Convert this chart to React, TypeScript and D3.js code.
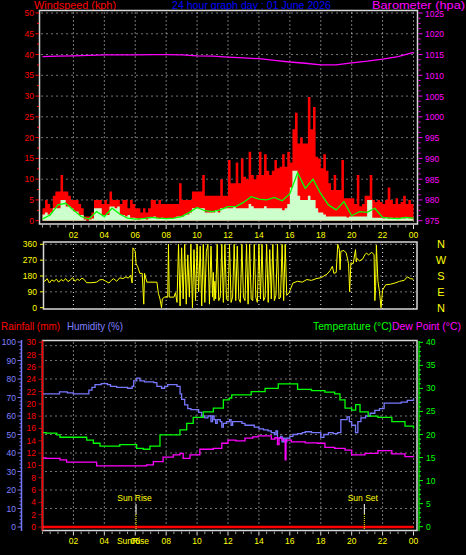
import React from 'react';
import * as d3 from 'd3';

const W = 466;
const H = 555;
const FONT = "'Liberation Sans', Arial, sans-serif";

// ---------- DATA ----------
const hourTicks = [2, 4, 6, 8, 10, 12, 14, 16, 18, 20, 22, 24];
const hourLabels = ['02', '04', '06', '08', '10', '12', '14', '16', '18', '20', '22', '00'];

const windTicks = [0, 5, 10, 15, 20, 25, 30, 35, 40, 45, 50];
const windLabels = ['0', '5', '10', '15', '20', '25', '30', '35', '40', '45', '50'];
const baroTicks = [975, 980, 985, 990, 995, 1000, 1005, 1010, 1015, 1020, 1025];
const dirTicks = [0, 90, 180, 270, 360];
const dirLetters = ['N', 'E', 'S', 'W', 'N'];
const humTicks = [0, 10, 20, 30, 40, 50, 60, 70, 80, 90, 100];
const rainTicks = [0, 2, 4, 6, 8, 10, 12, 14, 16, 18, 20, 22, 24, 26, 28, 30];
const tempTicks = [0, 5, 10, 15, 20, 25, 30, 35, 40];

// wind gust (kph), 10-minute samples
const windGust = [
  3, 5, 4, 3, 6, 7, 7, 11, 7, 7, 6, 5, 5, 5, 4, 3, 1, 1, 1, 2, 5, 5, 5, 4,
  5, 4, 7, 5, 5, 5, 4, 5, 5, 3, 5, 4, 3, 3, 2, 3, 2, 3, 5, 5, 4, 5, 4, 4,
  4, 4, 4, 4, 4, 9, 5, 5, 5, 5, 7, 7, 7, 7, 11, 6, 6, 6, 6, 6, 6, 10, 6, 6,
  14.6, 9, 9, 14, 9, 15, 10.6, 10, 16.6, 11, 10, 11, 16.6, 11, 16, 12, 11, 12,
  14.6, 12.6, 13, 16, 13, 16.6, 14, 22, 26, 18.6, 20, 18.6, 18.6, 29.8, 22, 27.4, 15.4, 15,
  12.6, 16, 12, 9, 7.4, 11, 7.4, 7.4, 14.6, 5.4, 5.4, 5.4, 5.4, 4, 11, 3.5, 4, 6,
  6, 11, 5, 4.5, 5, 4.5, 4, 5, 8, 5, 4, 5.4, 4, 4.5, 6, 4, 5, 4,
];
// average wind speed (kph), 10-minute samples
const windAvg = [
  1.5, 2, 1.5, 2, 3, 3, 3, 5, 5, 3.4, 3.4, 3, 2.2, 2.2, 1.4, 1.4, 0.3, 0,
  0.3, 0.5, 3, 3, 3, 1.4, 1.4, 1.4, 3.4, 3.4, 3, 3.4, 1.4, 1.4, 1, 1.4, 0.7, 0.7,
  0.5, 0.3, 0.6, 0.5, 0.3, 0.6, 0.8, 1, 0.6, 0.5, 0.7, 0.5, 0.5, 0.6, 0.5, 0.7, 1, 1,
  1, 1.5, 1.5, 2, 3, 3, 3, 3, 3, 2, 2, 2, 2, 2.5, 2, 3, 3, 3,
  3, 3, 3.5, 3, 3, 3, 3, 3, 4, 3.5, 3, 3, 3, 3, 3.5, 3, 3, 3,
  3, 3, 3, 2.5, 3, 4, 8, 12, 12, 6, 5, 5, 5, 6, 5, 5, 3, 2,
  2, 1.5, 1, 1, 1, 1, 1, 1, 1, 1, 0.8, 1, 1, 1, 1, 1, 1, 1,
  5, 5, 0.7, 0.7, 0.7, 0.7, 0.5, 0.7, 0.5, 0.7, 0.5, 0.7, 0.5, 0.7, 0.5, 0.7, 0.5, 0.5,
];
// smoothed wind (kph), half-hourly
const windLine = [
  0.4, 1.4, 3.8, 4.2, 2.6, 1.0, 0.4, 2.2, 1.0, 3.0, 1.6, 0.6, 0.4, 0.5, 0.8, 0.6,
  0.5, 0.6, 1.0, 2.0, 3.2, 2.4, 2.2, 2.6, 3.4, 3.4, 4.4, 5.8, 5.2, 5.0, 5.6, 4.8,
  6.5, 11.5, 7.8, 10.0, 6.5, 3.8, 2.6, 4.6, 1.2, 2.2, 2.0, 3.0, 0.8, 0.6, 0.5, 0.8, 0.6,
];
// barometer (hPa), hourly
const baro = [
  1014.5, 1014.6, 1014.7, 1014.8, 1014.9, 1014.9, 1014.9, 1015.0, 1015.0, 1014.9,
  1014.7, 1014.6, 1014.4, 1014.2, 1014.0, 1013.6, 1013.2, 1012.9, 1012.5, 1012.5,
  1013.0, 1013.4, 1013.9, 1014.5, 1015.5,
];
// wind direction [hour, degrees]
const windDir: [number, number][] = [
  [0.0, 160], [0.15, 150], [0.3, 165], [0.45, 140], [0.6, 158], [0.75, 150], [0.9, 162], [1.05, 145],
  [1.2, 160], [1.35, 152], [1.5, 165], [1.65, 148], [1.8, 158], [1.95, 170], [2.1, 150], [2.25, 162],
  [2.4, 155], [2.55, 168], [2.7, 160], [2.85, 142], [3.2, 142], [3.5, 145], [3.7, 158], [3.9, 160],
  [4.1, 150], [4.3, 140], [4.45, 155], [4.6, 165], [4.8, 150], [5.0, 170], [5.2, 165], [5.4, 175],
  [5.55, 168], [5.7, 185], [5.8, 140], [5.85, 340], [6.0, 320], [6.05, 250], [6.15, 235], [6.3, 195],
  [6.45, 195], [6.55, 20], [6.6, 195], [6.75, 145], [7.4, 145], [7.5, 80], [7.6, 50], [7.7, 0],
  [7.75, 50], [7.9, 60], [8.1, 60], [8.15, 360], [8.2, 60], [8.5, 60], [8.6, 85],
  [8.7, 30], [8.8, 360], [8.9, 10], [9.0, 340], [9.1, 50], [9.2, 360], [9.3, 20], [9.4, 300],
  [9.5, 60], [9.6, 360], [9.7, 0], [9.8, 330], [9.9, 40], [10.0, 360], [10.1, 90], [10.2, 350],
  [10.3, 10], [10.4, 360], [10.5, 30], [10.6, 320], [10.7, 360], [10.8, 20], [10.9, 350], [11.0, 60],
  [11.05, 200], [11.1, 40], [11.15, 150], [11.2, 50],
  [11.3, 360], [11.4, 40], [11.5, 60], [11.6, 360], [11.7, 30], [11.8, 360], [11.9, 50], [12.0, 40],
  [12.1, 360], [12.2, 30], [12.3, 60], [12.4, 360], [12.5, 40], [12.6, 350], [12.7, 50], [12.8, 30],
  [12.9, 360], [13.0, 60], [13.1, 40], [13.2, 360], [13.3, 20], [13.4, 360], [13.5, 50], [13.6, 40],
  [13.7, 360], [13.8, 60], [13.9, 30], [14.0, 360], [14.1, 50], [14.2, 360], [14.3, 40], [14.4, 60],
  [14.5, 360], [14.6, 30], [14.7, 330], [14.8, 50], [14.9, 360], [15.0, 40], [15.1, 70], [15.2, 360],
  [15.3, 50], [15.4, 60], [15.5, 360], [15.6, 40], [15.7, 360], [15.8, 70], [15.95, 85],
  [16.2, 140], [16.5, 150], [16.8, 145], [17.1, 160], [17.4, 155], [17.7, 165], [18.0, 170], [18.2, 180],
  [18.4, 190], [18.6, 210], [18.75, 235], [18.85, 195], [19.0, 200], [19.1, 360], [19.2, 330], [19.25, 215],
  [19.3, 320], [19.5, 325], [19.65, 310], [19.8, 250], [19.87, 90], [19.95, 255], [20.1, 250], [20.25, 330],
  [20.3, 260], [20.35, 280], [20.5, 265], [20.7, 275], [20.85, 300], [20.95, 310], [21.1, 300], [21.3, 315],
  [21.45, 300], [21.5, 40], [21.55, 120], [21.6, 355], [21.7, 150], [21.8, 90], [21.9, 0], [22.0, 100],
  [22.2, 130], [22.5, 133], [22.8, 140], [23.1, 150], [23.4, 155], [23.6, 175], [23.8, 165], [24.0, 162],
];
// humidity (%) [hour, value]
const humidity: [number, number][] = [
  [0, 72], [0.5, 72], [1.0, 72], [1.1, 73], [1.5, 73], [1.6, 72.5], [2.0, 72], [2.8, 72], [3.0, 74],
  [3.2, 75.5], [3.4, 77], [3.8, 77.5], [4.2, 77], [4.4, 76], [4.8, 75.5], [5.2, 75.5], [5.5, 75],
  [5.8, 76], [5.9, 79], [6.1, 80.5], [6.3, 79], [6.6, 78.5], [7.0, 78.5], [7.2, 78], [7.4, 76],
  [7.7, 75], [7.9, 76], [8.1, 77], [8.5, 77], [8.7, 76], [8.9, 72], [9.0, 69], [9.2, 66], [9.4, 64],
  [9.6, 63.5], [9.9, 63.5], [10.1, 62], [10.3, 60], [10.5, 59], [10.7, 60], [10.9, 57], [11.0, 60],
  [11.1, 58], [11.2, 56], [11.3, 58], [11.5, 57], [11.6, 54], [11.7, 56], [11.9, 57], [12.1, 58],
  [12.2, 55], [12.3, 57], [12.6, 57], [12.9, 56], [13.1, 55], [13.4, 55], [13.7, 54], [14.0, 53],
  [14.3, 52.5], [14.6, 52], [14.8, 51], [15.0, 50], [15.1, 52], [15.2, 48], [15.4, 49], [15.5, 46],
  [15.6, 48], [15.7, 46], [15.8, 48], [16.0, 49], [16.2, 50], [16.5, 50.5], [16.8, 51], [17.0, 51.5],
  [17.4, 51], [17.8, 51], [18.0, 48.5], [18.2, 50], [18.5, 51], [18.8, 50.5], [19.1, 51], [19.3, 58],
  [19.7, 59.5], [19.85, 57], [20.0, 55], [20.25, 51], [20.4, 57], [20.6, 59], [20.9, 60], [21.2, 61.5],
  [21.5, 63], [21.8, 64], [22.1, 67], [22.6, 67], [23.2, 67.5], [23.6, 68.5], [24, 69.5],
];
// temperature (°C) [hour, value]
const temperature: [number, number][] = [
  [0, 20.4], [0.23, 20.3], [0.92, 19.9], [1.13, 19.4], [2.43, 19.4], [2.86, 18.8], [3.29, 18.1],
  [3.72, 17.5], [4.8, 17.5], [5.0, 17.8], [5.87, 17.8], [6.09, 17.0], [6.52, 16.8], [6.95, 17.5],
  [7.6, 19.9], [8.46, 19.9], [8.89, 21.0], [9.33, 22.4], [9.75, 23.7], [10.4, 24.9], [11.05, 25.7],
  [11.7, 27.5], [12.08, 27.9], [12.24, 28.6], [13.1, 28.6], [13.5, 29.3], [14.4, 30.0], [15.25, 31.0],
  [16.1, 31.0], [16.5, 29.8], [17.4, 29.5], [18.27, 29.2], [18.9, 28.8], [19.24, 27.5], [19.57, 25.7],
  [20.0, 25.3], [20.26, 26.5], [20.54, 24.9], [21.07, 24.0], [21.7, 23.7], [22.6, 22.8], [23.45, 21.8],
  [24, 21.3],
];
// dew point (°C) [hour, value]
const dewPoint: [number, number][] = [
  [0, 14.9], [0.23, 14.8], [1.13, 14.5], [1.56, 14.0], [3.07, 14.0], [3.5, 13.2], [6.09, 13.2],
  [6.74, 13.4], [7.17, 14.1], [7.8, 15.1], [8.46, 15.6], [8.89, 15.9], [9.1, 14.8], [9.54, 15.6],
  [10.18, 16.8], [11.05, 17.0], [11.6, 18.1], [12.0, 18.8], [12.5, 18.6], [13.1, 19.2], [13.6, 19.5],
  [13.95, 19.7], [14.6, 19.7], [14.8, 19.0], [15.04, 19.3], [15.2, 17.8], [15.3, 19.2], [15.5, 18.8],
  [15.65, 18.8], [15.7, 14.5], [15.75, 18.8], [16.1, 18.4], [17.0, 18.2], [17.8, 18.1], [18.27, 17.2],
  [18.9, 17.0], [19.57, 16.6], [20.0, 15.6], [20.86, 15.9], [21.7, 16.5], [22.6, 15.8], [23.45, 15.2],
  [24, 15.3],
];
// rainfall (mm), hourly
const rainfall = [0, 0, 0, 0, 0, 0, 0, 0, 0, 0, 0, 0, 0, 0, 0, 0, 0, 0, 0, 0, 0, 0, 0, 0, 0];

const sunRiseHour = 6.05;
const sunSetHour = 20.82;

const halfHours = d3.range(0, 24.01, 0.5);

export default function App() {
  // scales
  const x = d3.scaleLinear().domain([0, 24]).range([42.5, 413.5]);
  const yWind = d3.scaleLinear().domain([0, 50]).range([220.7, 13]);
  const yBaro = d3.scaleLinear().domain([975, 1025]).range([220.7, 13]);
  const yDir = d3.scaleLinear().domain([0, 360]).range([307.7, 244.3]);
  const yHum = d3.scaleLinear().domain([0, 100]).range([527, 342]);
  const yRain = d3.scaleLinear().domain([0, 30]).range([527, 342.3]);
  const yTemp = d3.scaleLinear().domain([0, 40]).range([526.7, 342.3]);

  const stepArea = (vals: number[], per: number) =>
    d3
      .area<number>()
      .x((_, i) => x(i / per))
      .y0(yWind(0))
      .y1((d) => yWind(d))
      .curve(d3.curveStepAfter)([...vals, vals[vals.length - 1]]) || '';

  const gustPath = stepArea(windGust, 6);
  const avgPath = stepArea(windAvg, 6);
  const windLinePath =
    d3.line<number>().x((_, i) => x(i / 2)).y((d) => yWind(d))(windLine) || '';
  const baroPath = d3.line<number>().x((_, i) => x(i)).y((d) => yBaro(d))(baro) || '';
  const pairLine = (ys: d3.ScaleLinear<number, number>) =>
    d3.line<[number, number]>().x((d) => x(d[0])).y((d) => ys(d[1]));
  const dirPath = pairLine(yDir)(windDir) || '';
  const humPath = pairLine(yHum).curve(d3.curveStepAfter)(humidity) || '';
  const tempPath = pairLine(yTemp).curve(d3.curveStepAfter)(temperature) || '';
  const dewPath = pairLine(yTemp).curve(d3.curveStepAfter)(dewPoint) || '';
  const rainPath = d3.line<number>().x((_, i) => x(i)).y((d) => yRain(d))(rainfall) || '';

  const dotted = '#e8e8e8';
  const boxStroke = '#d8d8d8';

  const topBox = { x0: 39.5, x1: 417.5, y0: 10.5, y1: 224 };
  const midBox = { x0: 43.5, x1: 417, y0: 242, y1: 309 };
  const botBox = { x0: 42.5, x1: 417, y0: 340.5, y1: 530.5 };

  const timeTicks = (yb: number) =>
    halfHours.map((h, i) => {
      const major = h % 2 === 0 && h > 0;
      return (
        <line
          key={'tt' + yb + i}
          x1={x(h)}
          x2={x(h)}
          y1={yb + 1}
          y2={yb + (major ? 5 : 3.5)}
          stroke={major ? '#e0e0e0' : '#a0a0a0'}
          strokeWidth={1}
        />
      );
    });

  const vGrid = (y0: number, y1: number, k: string) =>
    hourTicks.map((h) => (
      <line key={k + h} x1={x(h)} x2={x(h)} y1={y0} y2={y1} stroke={dotted} strokeDasharray="1 3" />
    ));

  const hGrid = (ys: number[], x0: number, x1: number, k: string) =>
    ys.map((yy, i) => (
      <line key={k + i} x1={x0} x2={x1} y1={yy} y2={yy} stroke={dotted} strokeDasharray="1 4" />
    ));

  return (
    <svg
      width={W}
      height={H}
      style={{ position: 'absolute', left: 0, top: 0, display: 'block' }}
      fontFamily={FONT}
    >
      <defs>
        <clipPath id="clipTop">
          <rect x={topBox.x0} y={topBox.y0} width={topBox.x1 - topBox.x0} height={topBox.y1 - topBox.y0} />
        </clipPath>
        <clipPath id="clipMid">
          <rect x={midBox.x0} y={midBox.y0} width={midBox.x1 - midBox.x0} height={midBox.y1 - midBox.y0} />
        </clipPath>
        <clipPath id="clipBot">
          <rect x={botBox.x0} y={botBox.y0} width={botBox.x1 - botBox.x0} height={botBox.y1 - botBox.y0} />
        </clipPath>
      </defs>
      <rect x={0} y={0} width={W} height={H} fill="#000" />

      {/* ---------- titles ---------- */}
      <text x={34} y={8.5} fontSize={11} fill="#ff0000" textLength={82} lengthAdjust="spacingAndGlyphs">
        Windspeed (kph)
      </text>
      <text x={172} y={8.5} fontSize={11} fill="#0000ff" textLength={159} lengthAdjust="spacingAndGlyphs">
        24 hour graph day : 01 June 2026
      </text>
      <text x={372} y={8.5} fontSize={11} fill="#ff00ff" textLength={93} lengthAdjust="spacingAndGlyphs">
        Barometer (hpa)
      </text>

      {/* ---------- top panel ---------- */}
      <g>
        {hGrid(windTicks.filter((t) => t > 0).map((t) => yWind(t)), topBox.x0 + 2, topBox.x1 - 1, 'hgT')}
        {vGrid(topBox.y0 + 2, topBox.y1, 'vgT')}
      </g>
      <g clipPath="url(#clipTop)">
        <path d={gustPath} fill="#ff0000" />
        <path d={avgPath} fill="#ccffcc" />
        <path d={windLinePath} fill="none" stroke="#00ff00" strokeWidth={1.3} />
        <path d={baroPath} fill="none" stroke="#ff00ff" strokeWidth={1.3} />
      </g>
      <rect
        x={topBox.x0}
        y={topBox.y0}
        width={topBox.x1 - topBox.x0}
        height={topBox.y1 - topBox.y0}
        fill="none"
        stroke={boxStroke}
        strokeWidth={1.5}
      />
      {/* left wind axis */}
      {d3.range(0, 50.01, 2.5).map((v, i) => (
        <line
          key={'wt' + i}
          x1={v % 5 === 0 ? 35.5 : 37}
          x2={39}
          y1={yWind(v)}
          y2={yWind(v)}
          stroke="#ff0000"
        />
      ))}
      {windTicks.map((v, i) => (
        <text key={'wl' + i} x={34} y={yWind(v) + 3} fontSize={8.5} fill="#ff0000" textAnchor="end">
          {windLabels[i]}
        </text>
      ))}
      {/* right baro axis */}
      {d3.range(975, 1025.01, 1.25).map((v, i) => (
        <line
          key={'bt' + i}
          x1={418.5}
          x2={(v - 975) % 5 === 0 ? 422.5 : 420.5}
          y1={yBaro(v)}
          y2={yBaro(v)}
          stroke="#ff00ff"
        />
      ))}
      {baroTicks.map((v, i) => (
        <text key={'bl' + i} x={425} y={yBaro(v) + 3.5} fontSize={8.5} fill="#ff00ff">
          {v}
        </text>
      ))}
      {timeTicks(topBox.y1)}
      {hourTicks.map((h, i) => (
        <text key={'xl' + i} x={x(h)} y={237.5} fontSize={8.5} fill="#ffff00" textAnchor="middle">
          {hourLabels[i]}
        </text>
      ))}

      {/* ---------- middle panel ---------- */}
      {hGrid([360, 270, 180, 90].map((d) => yDir(d)), midBox.x0 + 2, midBox.x1 - 1, 'hgM')}
      {vGrid(midBox.y0 + 2, midBox.y1, 'vgM')}
      <g clipPath="url(#clipMid)">
        <path d={dirPath} fill="none" stroke="#ffff00" strokeWidth={1} />
      </g>
      <rect
        x={midBox.x0}
        y={midBox.y0}
        width={midBox.x1 - midBox.x0}
        height={midBox.y1 - midBox.y0}
        fill="none"
        stroke={boxStroke}
        strokeWidth={1.5}
      />
      {dirTicks.map((d, i) => (
        <g key={'dt' + i}>
          <line x1={40} x2={43.5} y1={yDir(d)} y2={yDir(d)} stroke="#ffff00" />
          <text x={37} y={yDir(d) + 3} fontSize={8.5} fill="#ffff00" textAnchor="end">
            {d}
          </text>
          <text x={441} y={yDir(d) + 4} fontSize={11} fill="#ffff00" textAnchor="middle">
            {dirLetters[i]}
          </text>
        </g>
      ))}

      {/* ---------- bottom panel ---------- */}
      <text x={1} y={330} fontSize={11} fill="#ff0000" textLength={59} lengthAdjust="spacingAndGlyphs">
        Rainfall (mm)
      </text>
      <text x={67} y={330} fontSize={11} fill="#8080ff" textLength={56} lengthAdjust="spacingAndGlyphs">
        Humidity (%)
      </text>
      <text x={313} y={330} fontSize={11} fill="#00ff00" textLength={79} lengthAdjust="spacingAndGlyphs">
        Temperature (°C)
      </text>
      <text x={392} y={330} fontSize={11} fill="#ff00ff" textLength={69} lengthAdjust="spacingAndGlyphs">
        Dew Point (°C)
      </text>

      {hGrid([10, 20, 30, 40, 50, 60, 70, 80, 90, 98].map((h) => yHum(h)), botBox.x0 + 3, botBox.x1 - 1, 'hgB')}
      {vGrid(botBox.y0 + 2, botBox.y1, 'vgB')}
      <g clipPath="url(#clipBot)">
        <path d={humPath} fill="none" stroke="#7878ff" strokeWidth={1.3} />
        <path d={tempPath} fill="none" stroke="#00ff00" strokeWidth={1.3} />
        <path d={dewPath} fill="none" stroke="#ff00ff" strokeWidth={1.3} />
        <path d={rainPath} fill="none" stroke="#ff0000" strokeWidth={2.5} />
      </g>
      <rect
        x={botBox.x0}
        y={botBox.y0}
        width={botBox.x1 - botBox.x0}
        height={botBox.y1 - botBox.y0}
        fill="none"
        stroke={boxStroke}
        strokeWidth={1.5}
      />
      {/* rain axis (left, red) */}
      <line x1={botBox.x0} x2={botBox.x0} y1={botBox.y0} y2={botBox.y1} stroke="#ff0000" strokeWidth={1.5} />
      {d3.range(0, 30.01, 0.5).map((v, i) => (
        <line
          key={'rt' + i}
          x1={v % 2 === 0 ? 38.5 : 41}
          x2={42.5}
          y1={yRain(v)}
          y2={yRain(v)}
          stroke="#ff0000"
          strokeWidth={0.8}
        />
      ))}
      {rainTicks.map((v, i) => (
        <text key={'rl' + i} x={36} y={yRain(v) + 3} fontSize={8.5} fill="#ff0000" textAnchor="end">
          {v}
        </text>
      ))}
      {/* humidity axis (far left, blue) */}
      <line x1={21.5} x2={21.5} y1={340} y2={531} stroke="#7878ff" strokeWidth={1.5} />
      {d3.range(0, 100.01, 2).map((v, i) => (
        <line
          key={'ht' + i}
          x1={v % 10 === 0 ? 17.5 : 19.5}
          x2={21.5}
          y1={yHum(v)}
          y2={yHum(v)}
          stroke="#7878ff"
        />
      ))}
      {humTicks.map((v, i) => (
        <text key={'hl' + i} x={16} y={yHum(v) + 3} fontSize={8.5} fill="#8080ff" textAnchor="end">
          {v}
        </text>
      ))}
      {/* temperature axis (right, green) */}
      <line x1={419} x2={419} y1={341} y2={531} stroke="#00ff00" strokeWidth={1.2} />
      {d3.range(0, 40.01, 1).map((v, i) => (
        <line
          key={'tt' + i}
          x1={419}
          x2={v % 5 === 0 ? 423 : 421}
          y1={yTemp(v)}
          y2={yTemp(v)}
          stroke="#00ff00"
        />
      ))}
      {tempTicks.map((v, i) => (
        <text key={'tl' + i} x={426} y={yTemp(v) + 3} fontSize={8.5} fill="#00ff00">
          {v}
        </text>
      ))}

      {/* sun rise / set markers */}
      {[
        { h: sunRiseHour, label: 'Sun Rise' },
        { h: sunSetHour, label: 'Sun Set' },
      ].map((s, i) => (
        <g key={'sun' + i}>
          <line x1={x(s.h)} x2={x(s.h)} y1={504} y2={514} stroke="#ffffff" strokeWidth={1} />
          <line x1={x(s.h)} x2={x(s.h)} y1={514} y2={530} stroke="#ffff00" strokeDasharray="1 1" />
          <text x={x(s.h) - 1.5} y={500.5} fontSize={8.5} fill="#ffff00" textAnchor="middle">
            {s.label}
          </text>
        </g>
      ))}

      {timeTicks(botBox.y1)}
      {hourTicks.map((h, i) => (
        <text key={'xb' + i} x={x(h)} y={544} fontSize={8.5} fill="#ffff00" textAnchor="middle">
          {hourLabels[i]}
        </text>
      ))}
      <text x={x(sunRiseHour) - 3} y={544} fontSize={8.5} fill="#ffff00" textAnchor="middle">
        SunRise
      </text>
    </svg>
  );
}
